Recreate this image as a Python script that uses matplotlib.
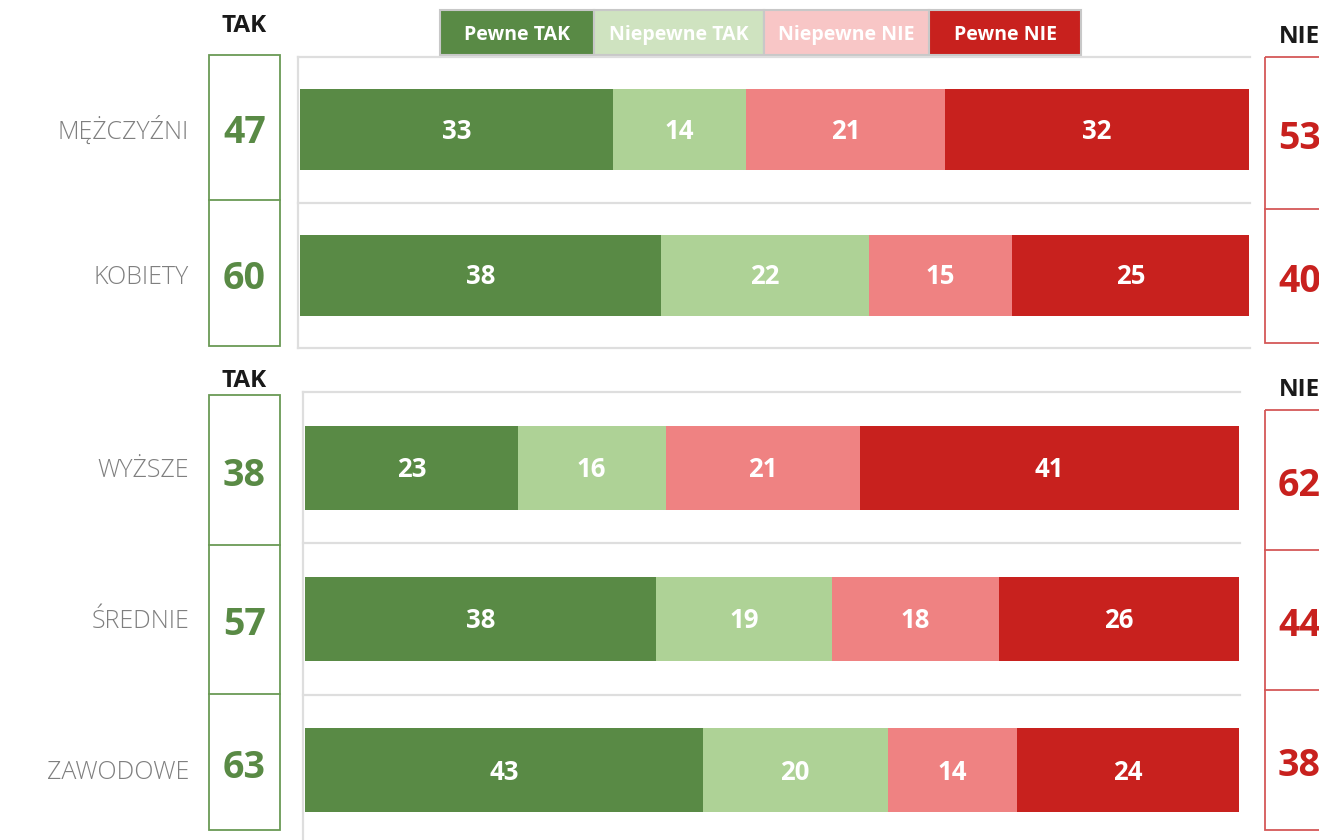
import matplotlib
matplotlib.use("Agg")
import matplotlib.pyplot as plt
from matplotlib.patches import Rectangle

# ---------------- data ----------------
series_names = ["Pewne TAK", "Niepewne TAK", "Niepewne NIE", "Pewne NIE"]

cats_gender = ["MĘŻCZYŹNI", "KOBIETY"]
pewne_tak_g = [33, 38]
niepewne_tak_g = [14, 22]
niepewne_nie_g = [21, 15]
pewne_nie_g = [32, 25]
tak_total_g = [47, 60]
nie_total_g = [53, 40]

cats_edu = ["WYŻSZE", "ŚREDNIE", "ZAWODOWE"]
pewne_tak_e = [23, 38, 43]
niepewne_tak_e = [16, 19, 20]
niepewne_nie_e = [21, 18, 14]
pewne_nie_e = [41, 26, 24]
tak_total_e = [38, 57, 63]
nie_total_e = [62, 44, 38]

# ---------------- style ----------------
W, H = 1319, 840
bar_colors = ["#598a45", "#aed296", "#ef8282", "#c8211e"]
legend_colors = ["#598a45", "#cfe3c0", "#f8c6c6", "#c8211e"]
grid_col = "#dedede"
green_box = "#6a9a55"
red_box = "#d45858"
FONT = ["Open Sans", "DejaVu Sans"]
plt.rcParams["font.family"] = FONT
CAP = 0.714  # cap height / em

fig = plt.figure(figsize=(W / 100, H / 100), dpi=100)
fig.patch.set_facecolor("white")

# overlay axes in pixel coordinates (for boxes, legend, titles)
ov = fig.add_axes([0, 0, 1, 1])
ov.set_xlim(0, W)
ov.set_ylim(H, 0)
ov.axis("off")
ov.set_zorder(0)


def base_off(fs):
    """pixel offset from visual centre to baseline for caps/digits"""
    return fs * 100 / 72 * CAP / 2


def px_axes(x0, y0, x1, y1):
    return fig.add_axes([x0 / W, 1 - y1 / H, (x1 - x0) / W, (y1 - y0) / H])


def panel(cats, series, tak, nie, ax_box, bar_x, box_l, box_r, tak_y, nie_y, bar_h):
    ax_x0, ax_y0, ax_x1, ax_y1 = ax_box
    bx0, bx1 = bar_x
    n = len(cats)
    total = max(sum(v) for v in zip(*series))
    scale = (bx1 - bx0) / total
    ax = px_axes(ax_x0, ax_y0, ax_x1, ax_y1)
    ax.set_zorder(1)
    ax.patch.set_alpha(0)
    ax.set_xlim(-(bx0 - ax_x0) / scale, total + (ax_x1 - bx1) / scale)
    ax.set_ylim(n - 0.5, -0.5)
    band = (ax_y1 - ax_y0) / n
    ys = list(range(n))
    left = [0] * n
    fs_bar = 18.5
    dy_bar = base_off(fs_bar) / band
    for vals, col in zip(series, bar_colors):
        ax.barh(ys, vals, left=left, height=bar_h, color=col, edgecolor="none")
        for y, v, l in zip(ys, vals, left):
            ax.text(l + v / 2, y + dy_bar, str(v), ha="center", va="baseline",
                    color="white", fontsize=fs_bar, fontweight="bold")
        left = [a + b for a, b in zip(left, vals)]
    for k in range(n + 1):
        ax.axhline(k - 0.5, color=grid_col, lw=1.6, clip_on=False)
    for s in ["top", "right", "bottom"]:
        ax.spines[s].set_visible(False)
    ax.spines["left"].set_color(grid_col)
    ax.spines["left"].set_linewidth(1.6)
    ax.set_xticks([])
    ax.set_yticks([])

    centers = [ax_y0 + band * (i + 0.5) for i in range(n)]

    # category labels
    fs_cat = 18
    for c, yc in zip(cats, centers):
        ov.text(189, yc + base_off(fs_cat), c, ha="right", va="baseline",
                color="#7f7f7f", fontsize=fs_cat, fontweight="light")

    fs_num = 27
    fs_head = 17.5
    # TAK box
    lx0, lx1, ldiv = box_l
    ov.add_patch(Rectangle((lx0, ldiv[0]), lx1 - lx0, ldiv[-1] - ldiv[0],
                           fill=False, edgecolor=green_box, lw=1.3))
    for yd in ldiv[1:-1]:
        ov.plot([lx0, lx1], [yd, yd], color=green_box, lw=1.3)
    for i, v in enumerate(tak):
        yc = (ldiv[i] + ldiv[i + 1]) / 2 + 2.5
        ov.text((lx0 + lx1) / 2, yc + base_off(fs_num), str(v),
                ha="center", va="baseline", color="#598a45", fontsize=fs_num,
                fontweight="bold")
    ov.text((lx0 + lx1) / 2, tak_y + base_off(fs_head), "TAK", ha="center",
            va="baseline", color="#1a1a1a", fontsize=fs_head, fontweight="bold")

    # NIE box (cut off at right edge)
    rx0, rdiv = box_r
    ov.add_patch(Rectangle((rx0, rdiv[0]), 200, rdiv[-1] - rdiv[0], fill=False,
                           edgecolor=red_box, lw=1.3))
    for yd in rdiv[1:-1]:
        ov.plot([rx0, W + 5], [yd, yd], color=red_box, lw=1.3)
    for i, v in enumerate(nie):
        yc = (rdiv[i] + rdiv[i + 1]) / 2 + 3
        ov.text(rx0 + 13, yc + base_off(fs_num), str(v),
                ha="left", va="baseline", color="#c8211e", fontsize=fs_num,
                fontweight="bold")
    ov.text(rx0 + 14, nie_y + base_off(fs_head), "NIE", ha="left",
            va="baseline", color="#1a1a1a", fontsize=fs_head, fontweight="bold")
    return ax


panel(cats_gender,
      [pewne_tak_g, niepewne_tak_g, niepewne_nie_g, pewne_nie_g],
      tak_total_g, nie_total_g,
      ax_box=(298, 57, 1250, 348), bar_x=(300, 1249),
      box_l=(209, 280, [55, 200, 346]), box_r=(1265, [57, 209, 343]),
      tak_y=23.5, nie_y=34.5, bar_h=0.56)

panel(cats_edu,
      [pewne_tak_e, niepewne_tak_e, niepewne_nie_e, pewne_nie_e],
      tak_total_e, nie_total_e,
      ax_box=(303, 392, 1240, 846), bar_x=(305, 1239),
      box_l=(209, 280, [395, 545, 694, 830]), box_r=(1265, [410, 550, 690, 830]),
      tak_y=378, nie_y=387, bar_h=0.555)

# legend
edges = [440, 594, 764, 929, 1081]
fs_leg = 14
for i, (name, col) in enumerate(zip(series_names, legend_colors)):
    x0, x1 = edges[i], edges[i + 1]
    ov.add_patch(Rectangle((x0, 10), x1 - x0, 45, facecolor=col,
                           edgecolor="#c8c8c8", lw=1.5))
    ov.text((x0 + x1) / 2, 33 + base_off(fs_leg), name, ha="center",
            va="baseline", color="white", fontsize=fs_leg, fontweight="bold")

fig.savefig("out.png", dpi=100, facecolor="white")
